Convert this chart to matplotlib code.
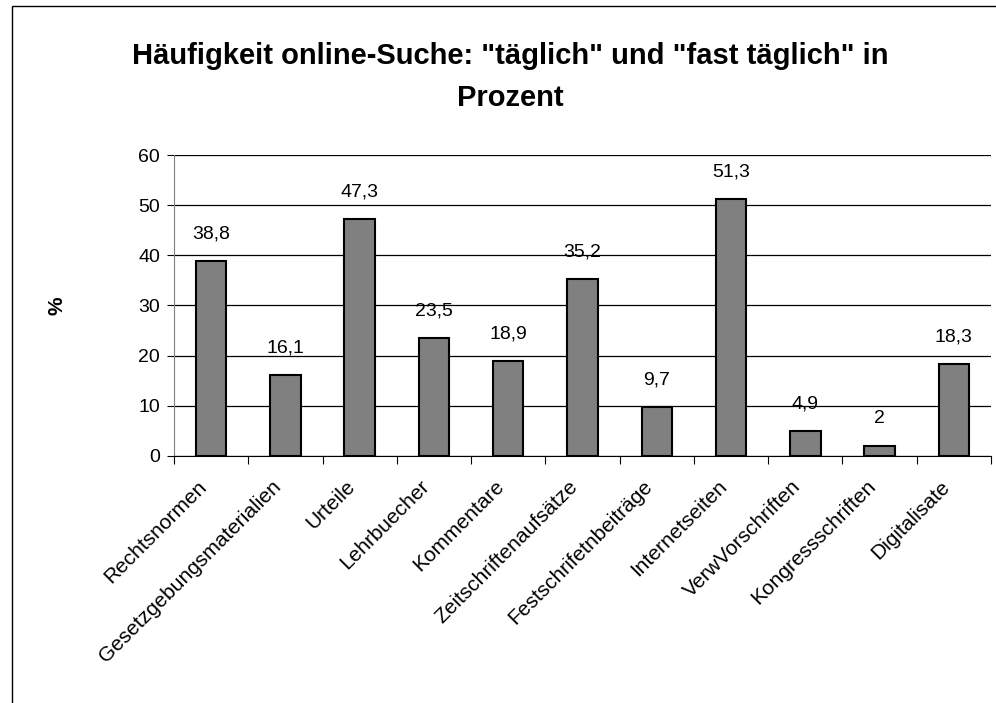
import matplotlib
matplotlib.use("Agg")
from matplotlib import pyplot as plt
from matplotlib.patches import Rectangle
from matplotlib.transforms import ScaledTranslation

# DATA
categories = ["Rechtsnormen", "Gesetzgebungsmaterialien", "Urteile", "Lehrbuecher",
              "Kommentare", "Zeitschriftenaufsätze", "Festschrifetnbeiträge",
              "Internetseiten", "VerwVorschriften", "Kongressschriften", "Digitalisate"]
values = [38.8, 16.1, 47.3, 23.5, 18.9, 35.2, 9.7, 51.3, 4.9, 2, 18.3]
value_labels = ["38,8", "16,1", "47,3", "23,5", "18,9", "35,2", "9,7", "51,3", "4,9", "2", "18,3"]
yticks = [0, 10, 20, 30, 40, 50, 60]

plt.rcParams['font.family'] = ['Liberation Sans', 'DejaVu Sans']

fig = plt.figure(figsize=(9.96, 7.03), dpi=100)
# chart area border (cut off at right and bottom)
fig.patches.append(Rectangle((12/996, -0.1), 1.2, 0.1 + 1 - 6/703, transform=fig.transFigure,
                             fill=False, edgecolor='black', linewidth=1))
ax = fig.add_axes([0.1747, 0.3514, 0.995 - 0.1747, 0.7795 - 0.3514])

x = list(range(len(categories)))
ax.bar(x, values, width=0.41, color='#808080', edgecolor='black', linewidth=1.5, zorder=3)
for xi, v, lab in zip(x, values, value_labels):
    ax.text(xi, v + 3.7, lab, ha='center', va='bottom', fontsize=14)

ax.set_xlim(-0.5, len(categories) - 0.5)
ax.set_ylim(0, 60)
ax.set_yticks(yticks)
ax.tick_params(axis='y', labelsize=14, length=5, direction='out', pad=5)
ax.yaxis.grid(True, color='black', linewidth=0.9, zorder=0)
ax.set_axisbelow(True)

# tick marks between categories, labels at category centres
ax.set_xticks([i - 0.5 for i in range(len(categories) + 1)], minor=False)
ax.set_xticklabels([])
ax.tick_params(axis='x', which='major', length=6, direction='out')
ax.set_xticks(x, minor=True)
ax.set_xticklabels(categories, minor=True, rotation=45, ha='right', rotation_mode='anchor',
                   fontsize=15)
ax.tick_params(axis='x', which='minor', length=0, pad=15)
shift = ScaledTranslation(-14/100, 0, fig.dpi_scale_trans)
for lbl in ax.get_xticklabels(minor=True):
    lbl.set_transform(lbl.get_transform() + shift)

for s in ['top', 'right']:
    ax.spines[s].set_visible(False)
ax.spines['left'].set_color('#808080')

ax.set_ylabel('%', fontsize=15, fontweight='bold')
ax.yaxis.set_label_coords(-0.132, 0.5)

fig.text(0.512, 0.891, 'Häufigkeit online-Suche: "täglich" und "fast täglich" in\nProzent',
         ha='center', va='center', fontsize=21, fontweight='bold', linespacing=1.64)

plt.savefig('out.png', dpi=100)
